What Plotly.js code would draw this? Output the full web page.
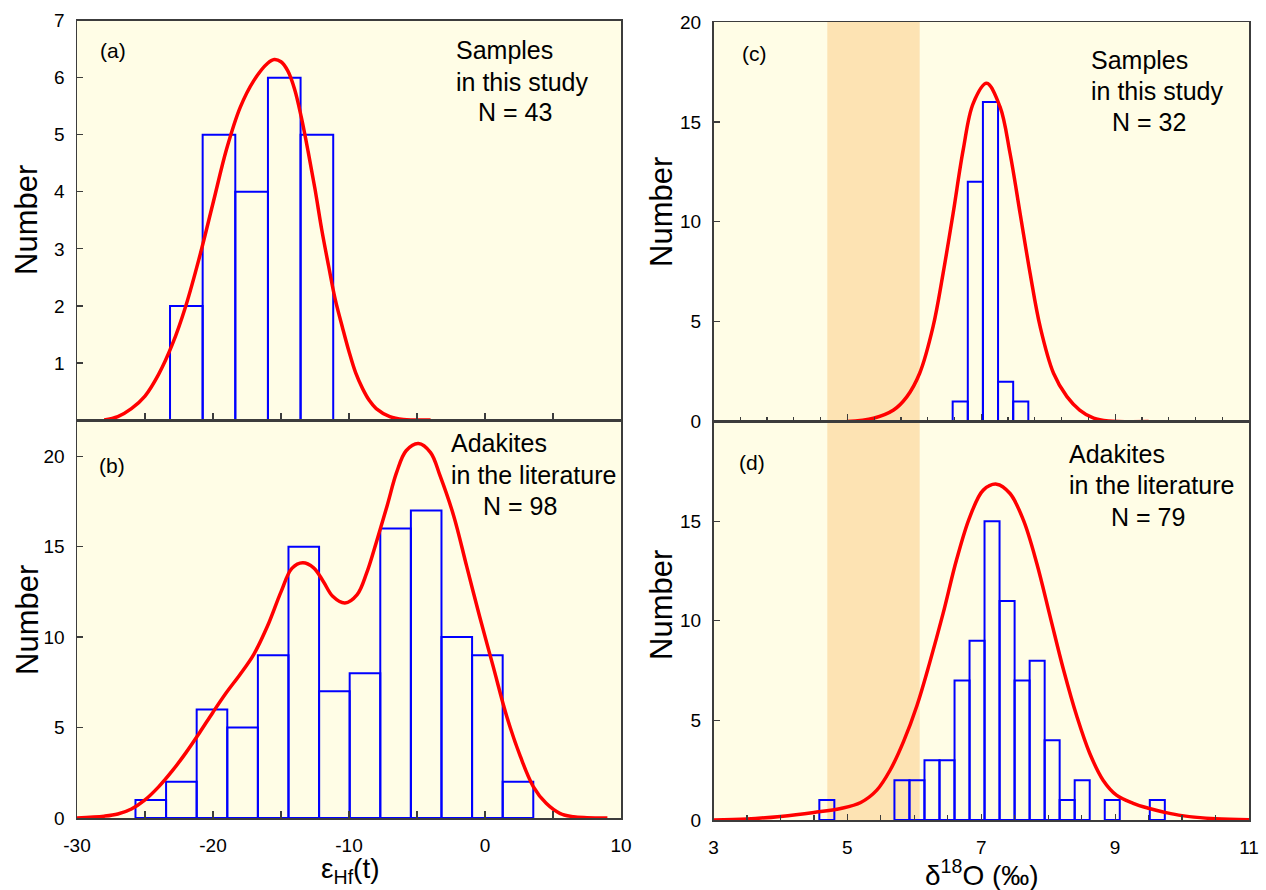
<!DOCTYPE html>
<html>
<head>
<meta charset="utf-8">
<script src="https://cdn.plot.ly/plotly-3.0.1.min.js"></script>
<style>
  html, body { margin: 0; padding: 0; background: #ffffff; }
  #chart { width: 1266px; height: 890px; }
</style>
</head>
<body>
<div id="chart"></div>
<script>
// ---------------- data ----------------
// (a) εHf(t), samples in this study
const aBinLeft = [-23.16, -20.76, -18.36, -15.96, -13.56];
const aBinWidth = 2.4;
const aCounts = [2, 5, 4, 6, 5];
const aCurveX = [-28, -27, -26, -25, -24, -23, -22, -21, -20, -19, -18, -17, -16, -15.5, -15, -14.5, -14, -13.5, -13, -12.5, -12, -11.5, -11, -10.5, -10, -9.5, -9, -8.5, -8, -7, -6, -4];
const aCurveY = [0, 0.06, 0.2, 0.42, 0.8, 1.32, 2.0, 2.85, 3.8, 4.75, 5.48, 5.95, 6.25, 6.32, 6.28, 6.12, 5.8, 5.3, 4.7, 4.05, 3.33, 2.7, 2.1, 1.64, 1.2, 0.82, 0.55, 0.34, 0.2, 0.06, 0.01, 0];

// (b) εHf(t), adakites in the literature
const bBinLeft = [-25.7, -23.45, -21.2, -18.95, -16.7, -14.45, -12.2, -9.95, -7.7, -5.45, -3.2, -0.95, 1.3];
const bBinWidth = 2.25;
const bCounts = [1, 2, 6, 5, 9, 15, 7, 8, 16, 17, 10, 9, 2];
const bCurveX = [-30, -28, -27, -26, -25, -24, -23, -22, -21, -20, -19, -18, -17, -16, -15, -14.2, -13.4, -12.6, -11.9, -11.2, -10.3, -9.4, -8.7, -8.0, -7.2, -6.5, -5.8, -4.9, -4.0, -3.3, -2.3, -1.35, -0.4, 0.6, 1.6, 2.6, 3.55, 4.5, 5.5, 6.5, 7.5, 9.0];
const bCurveY = [0, 0.1, 0.22, 0.5, 1.0, 1.72, 2.6, 3.6, 4.7, 5.85, 6.95, 7.95, 9.05, 10.6, 12.5, 13.8, 14.11, 13.83, 13.09, 12.26, 11.89, 12.35, 13.55, 15.22, 17.25, 19.1, 20.3, 20.7, 20.2, 18.91, 16.7, 13.92, 11.15, 8.38, 5.61, 3.4, 1.74, 0.81, 0.26, 0.07, 0.02, 0];

// (c) δ18O, samples in this study
const cBinLeft = [6.573, 6.799, 7.025, 7.251, 7.477];
const cBinWidth = 0.226;
const cCounts = [1, 12, 16, 2, 1];
const cCurveX = [4.99, 5.39, 5.69, 5.89, 6.08, 6.28, 6.43, 6.58, 6.73, 6.88, 7.08, 7.28, 7.43, 7.58, 7.73, 7.88, 8.08, 8.28, 8.47, 8.68, 8.9, 9.5];
const cCurveY = [0, 0.17, 0.58, 1.25, 2.42, 4.75, 7.42, 10.43, 13.6, 15.93, 16.93, 15.76, 13.43, 10.43, 7.42, 4.75, 2.42, 1.25, 0.58, 0.17, 0.03, 0];

// (d) δ18O, adakites in the literature
const dBinLeft = [4.581, 5.703, 5.927, 6.152, 6.376, 6.601, 6.825, 7.049, 7.274, 7.498, 7.723, 7.947, 8.171, 8.396, 8.845, 9.518];
const dBinWidth = 0.2244;
const dCounts = [1, 2, 2, 3, 3, 7, 9, 15, 11, 7, 8, 4, 1, 2, 1, 1];
const dCurveX = [3.0, 3.5, 4.0, 4.5, 4.9, 5.2, 5.44, 5.64, 5.84, 6.04, 6.23, 6.43, 6.63, 6.83, 7.03, 7.23, 7.43, 7.63, 7.83, 8.03, 8.23, 8.43, 8.62, 8.82, 9.02, 9.27, 9.5, 9.75, 10.0, 10.5, 11.0];
const dCurveY = [0, 0.05, 0.18, 0.38, 0.58, 0.88, 1.5, 2.51, 3.95, 5.75, 7.9, 10.37, 13.05, 15.22, 16.56, 16.86, 16.39, 15.05, 12.88, 10.2, 7.53, 5.18, 3.35, 2.0, 1.25, 0.84, 0.59, 0.38, 0.22, 0.06, 0.01];

// mantle-zircon δ18O band
const mantleBand = [4.7, 6.08];

// tick labels
const hfTickVals = [-30, -20, -10, 0, 10];
const hfTickText = ['-30', '-20', '-10', '0', '10'];
const oTickVals = [3, 5, 7, 9, 11];
const oTickText = ['3', '5', '7', '9', '11'];

// labels
const panelLabels = ['(a)', '(b)', '(c)', '(d)'];
const infoA = ['Samples', 'in this study', 'N = 43'];
const infoB = ['Adakites', 'in the literature', 'N = 98'];
const infoC = ['Samples', 'in this study', 'N = 32'];
const infoD = ['Adakites', 'in the literature', 'N = 79'];
const yTitle = 'Number';
const xTitleLeft = 'ε<sub>Hf</sub>(t)';
const xTitleRight = 'δ<sup>18</sup>O (‰)';

// ---------------- styling ----------------
const W = 1266, H = 890;
const px = v => v / W;
const py = v => 1 - v / H;
const FONT = 'Liberation Sans, Arial, Helvetica, sans-serif';
const FRAME = '#3c3c3c';
const BAR_LINE = '#0000ff';
const CURVE = '#ff0000';

function barTrace(x, y, w, xa, ya) {
  return {
    type: 'bar', x: x, y: y, width: w, offset: 0,
    xaxis: xa, yaxis: ya,
    marker: { color: 'rgba(0,0,0,0)', line: { color: BAR_LINE, width: 2 } },
    hoverinfo: 'x+y', showlegend: false
  };
}
function curveTrace(x, y, xa, ya) {
  return {
    type: 'scatter', mode: 'lines', x: x, y: y, xaxis: xa, yaxis: ya,
    line: { color: CURVE, width: 3.5, shape: 'spline', smoothing: 1 },
    showlegend: false, hoverinfo: 'skip'
  };
}

const data = [
  barTrace(aBinLeft, aCounts, aBinWidth, 'x', 'y'),
  curveTrace(aCurveX, aCurveY, 'x', 'y'),
  barTrace(bBinLeft, bCounts, bBinWidth, 'x2', 'y2'),
  curveTrace(bCurveX, bCurveY, 'x2', 'y2'),
  barTrace(cBinLeft, cCounts, cBinWidth, 'x3', 'y3'),
  curveTrace(cCurveX, cCurveY, 'x3', 'y3'),
  barTrace(dBinLeft, dCounts, dBinWidth, 'x4', 'y4'),
  curveTrace(dCurveX, dCurveY, 'x4', 'y4')
];

const tickFont = { family: FONT, size: 19, color: '#000' };
const baseAxis = {
  showline: true, linecolor: FRAME, linewidth: 1.5, mirror: true,
  ticks: 'inside', tickcolor: FRAME, tickwidth: 1.2,
  showgrid: false, zeroline: false, tickfont: tickFont, fixedrange: true
};
const minorStyle = { ticks: 'inside', tickcolor: FRAME, tickwidth: 1.2, tickmode: 'linear' };

const leftX = [px(77), px(621)];
const rightX = [px(713.5), px(1249)];

const layout = {
  width: W, height: H,
  margin: { l: 0, r: 0, t: 0, b: 0 },
  paper_bgcolor: '#ffffff',
  plot_bgcolor: '#fffde6',
  bargap: 0,
  showlegend: false,
  font: { family: FONT, color: '#000' },
  xaxis: Object.assign({}, baseAxis, {
    domain: leftX, anchor: 'y', range: [-30, 10],
    tick0: -30, dtick: 5, ticklen: 7, showticklabels: false
  }),
  yaxis: Object.assign({}, baseAxis, {
    domain: [py(420), py(20.7)], anchor: 'x', range: [0, 7],
    tickvals: [1, 2, 3, 4, 5, 6, 7], ticklen: 6, ticklabelstandoff: 7
  }),
  xaxis2: Object.assign({}, baseAxis, {
    domain: leftX, anchor: 'y2', range: [-30, 10],
    tickmode: 'array', tickvals: hfTickVals, ticktext: hfTickText,
    ticklen: 7, ticklabelstandoff: 10,
    minor: Object.assign({ tick0: -30, dtick: 5, ticklen: 7 }, minorStyle)
  }),
  yaxis2: Object.assign({}, baseAxis, {
    domain: [py(818), py(420)], anchor: 'x2', range: [0, 22],
    tickvals: [0, 5, 10, 15, 20], ticklen: 6, ticklabelstandoff: 7
  }),
  xaxis3: Object.assign({}, baseAxis, {
    domain: rightX, anchor: 'y3', range: [3, 11],
    tick0: 3, dtick: 2, ticklen: 8, showticklabels: false,
    minor: Object.assign({ tick0: 3, dtick: 0.4, ticklen: 5 }, minorStyle)
  }),
  yaxis3: Object.assign({}, baseAxis, {
    domain: [py(421.6), py(22)], anchor: 'x3', range: [0, 20],
    tickvals: [0, 5, 10, 15, 20], ticklen: 6, ticklabelstandoff: 7
  }),
  xaxis4: Object.assign({}, baseAxis, {
    domain: rightX, anchor: 'y4', range: [3, 11],
    tickmode: 'array', tickvals: oTickVals, ticktext: oTickText,
    ticklen: 6, ticklabelstandoff: 10,
    minor: Object.assign({ tick0: 3, dtick: 0.5, ticklen: 5 }, minorStyle)
  }),
  yaxis4: Object.assign({}, baseAxis, {
    domain: [py(820), py(421.6)], anchor: 'x4', range: [0, 20],
    tickvals: [0, 5, 10, 15], ticklen: 6, ticklabelstandoff: 7
  }),
  shapes: [
    { type: 'rect', layer: 'below', xref: 'x3', yref: 'y3 domain',
      x0: mantleBand[0], x1: mantleBand[1], y0: 0, y1: 1,
      fillcolor: '#fde3b3', line: { width: 0 } },
    { type: 'rect', layer: 'below', xref: 'x4', yref: 'y4 domain',
      x0: mantleBand[0], x1: mantleBand[1], y0: 0, y1: 1,
      fillcolor: '#fde3b3', line: { width: 0 } }
  ],
  annotations: []
};

function addText(text, x, y, size, opts) {
  layout.annotations.push(Object.assign({
    text: text, xref: 'paper', yref: 'paper', x: px(x), y: py(y),
    xanchor: 'left', yanchor: 'middle', showarrow: false,
    font: { family: FONT, size: size, color: '#000' }
  }, opts || {}));
}

// panel letters
addText(panelLabels[0], 98, 50, 21);
addText(panelLabels[1], 97, 465, 21);
addText(panelLabels[2], 740, 54, 21);
addText(panelLabels[3], 737, 462, 21);

// info blocks
addText(infoA[0], 454, 50, 25); addText(infoA[1], 454, 82, 25); addText(infoA[2], 476, 112, 25);
addText(infoB[0], 449, 443, 25); addText(infoB[1], 449, 475, 25); addText(infoB[2], 481, 506, 25);
addText(infoC[0], 1089, 60, 25); addText(infoC[1], 1089, 91, 25); addText(infoC[2], 1110, 122, 25);
addText(infoD[0], 1067, 454, 25); addText(infoD[1], 1067, 485, 25); addText(infoD[2], 1109, 517, 25);

// axis titles
addText(yTitle, 27, 220, 31, { xanchor: 'center', textangle: -90 });
addText(yTitle, 27, 620, 31, { xanchor: 'center', textangle: -90 });
addText(yTitle, 661, 212, 31, { xanchor: 'center', textangle: -90 });
addText(yTitle, 661, 605, 31, { xanchor: 'center', textangle: -90 });
addText(xTitleLeft, 350, 870, 28, { xanchor: 'center' });
addText(xTitleRight, 982, 873, 28, { xanchor: 'center' });

Plotly.newPlot('chart', data, layout, { displayModeBar: false, staticPlot: true });
</script>
</body>
</html>
